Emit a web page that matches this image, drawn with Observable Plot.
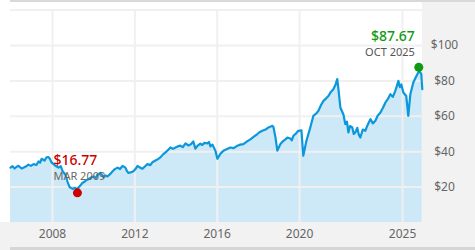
<!DOCTYPE html>
<html>
<head>
<meta charset="utf-8">
<script src="https://cdn.jsdelivr.net/npm/d3@7"></script>
<script src="https://cdn.jsdelivr.net/npm/@observablehq/plot@0.6"></script>
<style>
  html, body { margin: 0; padding: 0; background: #ffffff; }
</style>
</head>
<body>
<div id="chart"></div>
<script>
// Time in decimal years, price in dollars
const years = [
  2005.96, 2006.06, 2006.16, 2006.26, 2006.35, 2006.50, 2006.59, 2006.70, 2006.83, 2006.95,
  2007.08, 2007.22, 2007.32, 2007.40, 2007.47, 2007.61, 2007.71, 2007.81, 2007.88, 2007.95,
  2008.05, 2008.15, 2008.29, 2008.40, 2008.49, 2008.63, 2008.73, 2008.83, 2008.97, 2009.07,
  2009.21, 2009.36, 2009.45, 2009.55, 2009.65, 2009.75, 2009.88, 2009.99, 2010.10, 2010.18,
  2010.33, 2010.48, 2010.58, 2010.67, 2010.82, 2010.92, 2011.01, 2011.16, 2011.28, 2011.40,
  2011.54, 2011.62, 2011.69, 2011.79, 2011.93, 2012.05, 2012.13, 2012.25, 2012.37, 2012.50,
  2012.61, 2012.75, 2012.85, 2013.00, 2013.12, 2013.24, 2013.37, 2013.49, 2013.60, 2013.73,
  2013.85, 2013.97, 2014.08, 2014.21, 2014.33, 2014.46, 2014.60, 2014.72, 2014.84, 2014.94,
  2015.05, 2015.18, 2015.28, 2015.38, 2015.52, 2015.60, 2015.67, 2015.77, 2015.91, 2016.01,
  2016.16, 2016.30, 2016.45, 2016.64, 2016.80, 2016.98, 2017.12, 2017.27, 2017.45, 2017.61,
  2017.78, 2017.95, 2018.05, 2018.19, 2018.35, 2018.49, 2018.60, 2018.68, 2018.73, 2018.83,
  2018.92, 2019.07, 2019.20, 2019.31, 2019.41, 2019.55, 2019.62, 2019.70, 2019.82, 2019.94,
  2020.09, 2020.18, 2020.33, 2020.52, 2020.67, 2020.80, 2020.91, 2021.05, 2021.16, 2021.28,
  2021.40, 2021.52, 2021.64, 2021.75, 2021.83, 2021.88, 2021.98, 2022.13, 2022.22, 2022.30,
  2022.37, 2022.45, 2022.56, 2022.63, 2022.71, 2022.80, 2022.88, 2022.95, 2023.07, 2023.19,
  2023.30, 2023.44, 2023.56, 2023.68, 2023.80, 2023.92, 2024.05, 2024.17, 2024.30, 2024.41,
  2024.53, 2024.65, 2024.80, 2024.87, 2024.94, 2025.04, 2025.18, 2025.28, 2025.38, 2025.52,
  2025.62, 2025.72, 2025.81, 2025.91, 2025.96
];
const prices = [
  31.0, 31.8, 30.5, 31.5, 32.0, 30.5, 31.0, 31.6, 32.7, 32.0,
  33.0, 32.5, 34.5, 33.8, 36.0, 35.0, 36.8, 37.0, 35.8, 34.0,
  33.0, 32.0, 31.0, 31.8, 29.0, 27.0, 23.0, 20.0, 19.0, 19.5,
  19.0, 21.0, 22.3, 23.0, 24.0, 24.5, 25.5, 26.0, 25.2, 27.0,
  28.0, 25.5, 26.5, 26.0, 27.6, 29.0, 30.0, 31.0, 30.2, 32.0,
  31.0, 29.0, 28.0, 28.3, 29.0, 30.5, 32.0, 31.0, 30.4, 31.8,
  33.0, 32.4, 34.0, 35.0, 35.8, 36.8, 38.5, 39.6, 40.8, 42.4,
  41.6, 42.4, 43.0, 43.4, 42.6, 44.7, 43.5, 44.2, 45.8, 41.7,
  43.4, 44.5, 43.8, 45.0, 44.7, 45.5, 43.0, 44.0, 40.6, 36.0,
  38.9, 40.6, 41.4, 42.4, 42.0, 43.4, 44.0, 44.3, 45.8, 47.0,
  48.5, 50.0, 51.0, 51.8, 52.5, 53.7, 54.2, 54.6, 54.0, 48.0,
  40.6, 44.3, 46.0, 47.0, 48.0, 47.5, 46.4, 49.0, 50.2, 51.8,
  52.0, 37.7, 46.0, 53.7, 60.3, 61.5, 63.0, 66.5, 68.7, 70.0,
  71.5, 73.8, 75.3, 78.0, 81.0, 76.0, 65.0, 61.0, 55.6, 57.0,
  50.9, 54.5, 53.7, 50.0, 50.9, 53.5, 49.5, 48.0, 52.5, 51.8,
  55.0, 58.4, 56.0, 57.5, 60.5, 62.0, 64.8, 67.8, 70.0, 72.5,
  71.0, 74.4, 80.0, 76.5, 78.0, 73.4, 71.5, 60.3, 72.5, 79.0,
  81.5, 83.8, 85.6, 84.0, 75.3
];

const xTicks = [2008, 2012, 2016, 2020, 2025];
const yTicks = [20, 40, 60, 80, 100];
const yGrid = [20, 40, 60, 80, 100, 120];

const lowPoint = {t: 2009.21, v: 16.77, price: "$16.77", label: "MAR 2009"};
const highPoint = {t: 2025.79, v: 87.67, price: "$87.67", label: "OCT 2025"};

const data = years.map((t, i) => ({t, v: prices[i]}));

const chart = Plot.plot({
  width: 475,
  height: 250,
  marginLeft: 10,
  marginRight: 53,
  marginTop: 2,
  marginBottom: 28,
  style: {background: "#f2f2f2", fontFamily: "'Noto Sans', sans-serif", overflow: "visible"},
  x: {type: "linear", domain: [2005.96, 2025.97], label: null},
  y: {domain: [0, 124.3], label: null},
  marks: [
    Plot.areaY(data, {x: "t", y: "v", fill: "#cde9f7", curve: "linear"}),
    Plot.ruleY(yGrid, {stroke: "#f0f0f0", strokeWidth: 2}),
    Plot.ruleX(xTicks, {y1: 0, y2: 120, stroke: "#f0f0f0", strokeWidth: 2}),
    Plot.lineY(data, {x: "t", y: "v", stroke: "#0b97db", strokeWidth: 2.2, curve: "linear"}),
    Plot.axisX(xTicks, {tickSize: 0, tickPadding: 7, tickFormat: d => String(d), fontSize: 12, fill: "#666", label: null}),
    Plot.axisY(yTicks, {anchor: "right", tickSize: 0, tickPadding: 22, textAnchor: "middle", tickFormat: d => "$" + d, fontSize: 12, fill: "#666", label: null}),
    Plot.dot([lowPoint], {x: "t", y: "v", r: 4.5, fill: "#cc0000"}),
    Plot.dot([highPoint], {x: "t", y: "v", r: 4.5, fill: "#119911"}),
    Plot.text([lowPoint], {x: "t", y: "v", text: "price", dx: -24, dy: -32, textAnchor: "start", fontSize: 14, fontWeight: 500, fill: "#cc0000"}),
    Plot.text([lowPoint], {x: "t", y: "v", text: "label", dx: -24, dy: -16, textAnchor: "start", fontSize: 11, fill: "#666"}),
    Plot.text([highPoint], {x: "t", y: "v", text: "price", dx: -4, dy: -31, textAnchor: "end", fontSize: 14, fontWeight: 500, fill: "#119911"}),
    Plot.text([highPoint], {x: "t", y: "v", text: "label", dx: -4, dy: -15, textAnchor: "end", fontSize: 11, fill: "#555"})
  ]
});

// Panel backgrounds (decoration only)
const svg = d3.select(chart);
svg.insert("rect", ":first-child").attr("x", 10).attr("y", 247).attr("width", 465).attr("height", 3).attr("fill", "#d6d6d6");
svg.insert("rect", ":first-child").attr("x", 10).attr("y", 0).attr("width", 465).attr("height", 2).attr("fill", "#d9d9d9");
svg.insert("rect", ":first-child").attr("x", 0).attr("y", 0).attr("width", 422).attr("height", 222).attr("fill", "#ffffff");

document.getElementById("chart").appendChild(chart);
</script>
</body>
</html>
